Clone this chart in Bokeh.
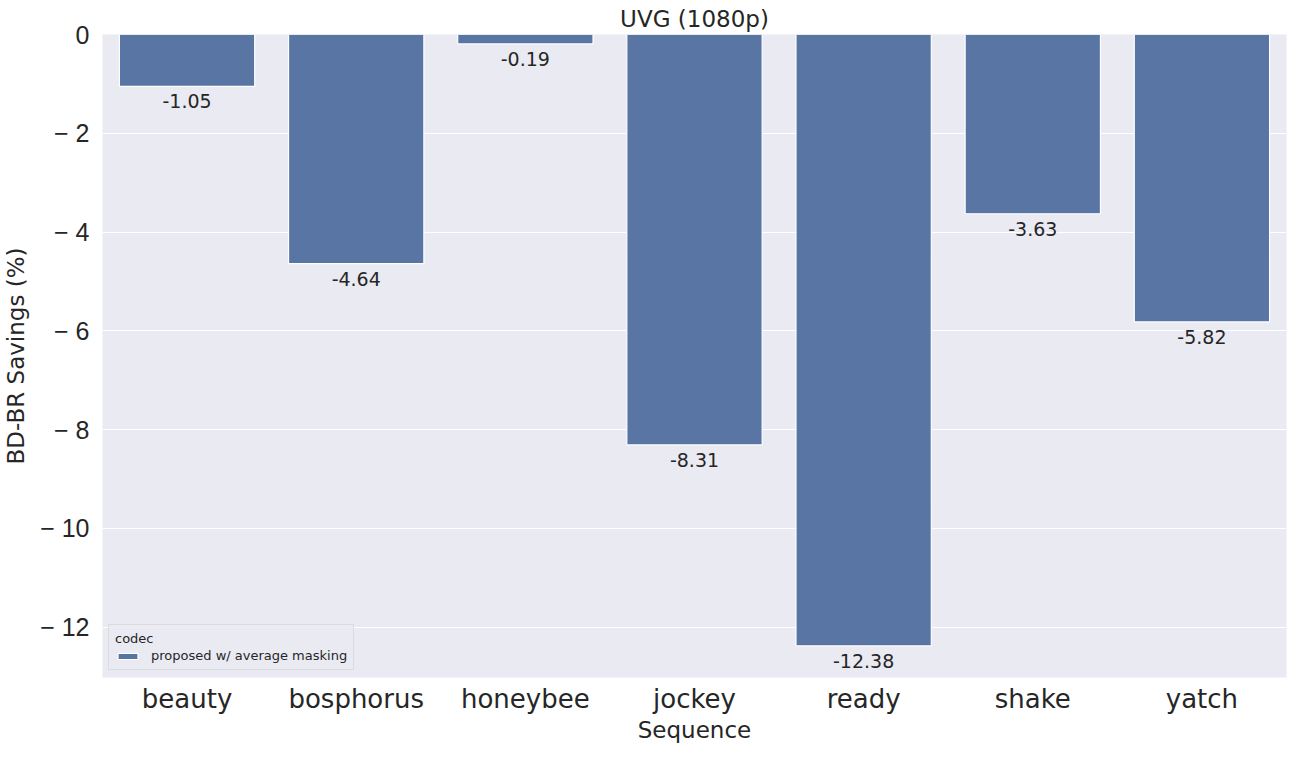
from bokeh.plotting import figure
from bokeh.models import ColumnDataSource, LabelSet, Legend, LegendItem, FixedTicker, Range1d
from bokeh.core.properties import value
from bokeh.embed import file_html
from bokeh.resources import INLINE

sequences = ["beauty", "bosphorus", "honeybee", "jockey", "ready", "shake", "yatch"]
savings = [-1.05, -4.64, -0.19, -8.31, -12.38, -3.63, -5.82]
series_name = "proposed w/ average masking"
y_ticks = [0, -2, -4, -6, -8, -10, -12]

FONT = "DejaVu Sans"
YFONT = "Liberation Sans"
TXT = "#262626"
xpos = list(range(len(sequences)))
src = ColumnDataSource(dict(x=xpos, seq=sequences, val=savings,
                            lab=["%.2f" % v for v in savings]))

p = figure(x_range=Range1d(-0.5, len(sequences) - 0.5), y_range=Range1d(-13.02, 0),
           width=1288, height=745, output_backend="svg", toolbar_location=None,
           min_border_left=96, min_border_right=2, min_border_top=28, min_border_bottom=65)
p.title.text = "UVG (1080p)"
p.title.align = "center"
p.title.text_font = FONT
p.title.text_font_size = "23px"
p.title.text_font_style = "normal"
p.title.text_color = TXT
p.title.offset = 0
p.title.standoff = 6

p.background_fill_color = "#EAEAF2"
p.border_fill_color = "white"
p.outline_line_color = None

r = p.vbar(x="x", top="val", bottom=0, width=0.8, source=src,
           fill_color="#5875A4", line_color="white", line_width=1.2)

p.add_layout(LabelSet(x="x", y="val", text="lab", source=src, y_offset=-8,
                      text_align="center", text_baseline="top",
                      text_font_size="19px", text_color=TXT, text_font=value(FONT)))

p.xgrid.grid_line_color = None
p.ygrid.grid_line_color = "white"
p.ygrid.grid_line_width = 1.2

p.xaxis.ticker = FixedTicker(ticks=xpos)
p.xaxis.major_label_overrides = {i: s for i, s in zip(xpos, sequences)}
p.yaxis.ticker = FixedTicker(ticks=y_ticks)
p.yaxis.major_label_overrides = {t: ("0" if t == 0 else "\u2212 %d" % abs(t)) for t in y_ticks}
for ax in (p.xaxis[0], p.yaxis[0]):
    ax.axis_line_color = None
    ax.major_tick_line_color = None
    ax.minor_tick_line_color = None
    ax.major_tick_out = 0
    ax.major_tick_in = 0
    ax.minor_tick_out = 0
    ax.minor_tick_in = 0
    ax.major_label_text_color = TXT
    ax.axis_label_text_font = FONT
    ax.axis_label_text_font_size = "23px"
    ax.axis_label_text_font_style = "normal"
    ax.axis_label_text_color = TXT
p.xaxis.major_label_text_font = FONT
p.xaxis.major_label_text_font_size = "26px"
p.yaxis.major_label_text_font = YFONT
p.yaxis.major_label_text_font_size = "25px"
p.xaxis.axis_label = "Sequence"
p.yaxis.axis_label = "BD-BR Savings (%)"
p.xaxis.major_label_standoff = 6
p.yaxis.major_label_standoff = 13
p.xaxis.axis_label_standoff = 0
p.yaxis.axis_label_standoff = 8

legend = Legend(items=[LegendItem(label=series_name, renderers=[r])],
                location=(6, 7), title="codec",
                title_text_font_size="13px", title_text_font_style="normal",
                title_text_font=FONT, title_text_color=TXT,
                label_text_font=FONT, label_text_font_size="13px", label_text_color=TXT,
                background_fill_color="#EAEAF2", background_fill_alpha=0.8,
                border_line_color="#cccccc", border_line_width=1,
                glyph_width=25, glyph_height=8, padding=6, spacing=2, margin=0,
                label_standoff=11, title_standoff=2)
p.add_layout(legend)

open("out.html", "w").write(file_html(p, INLINE))
